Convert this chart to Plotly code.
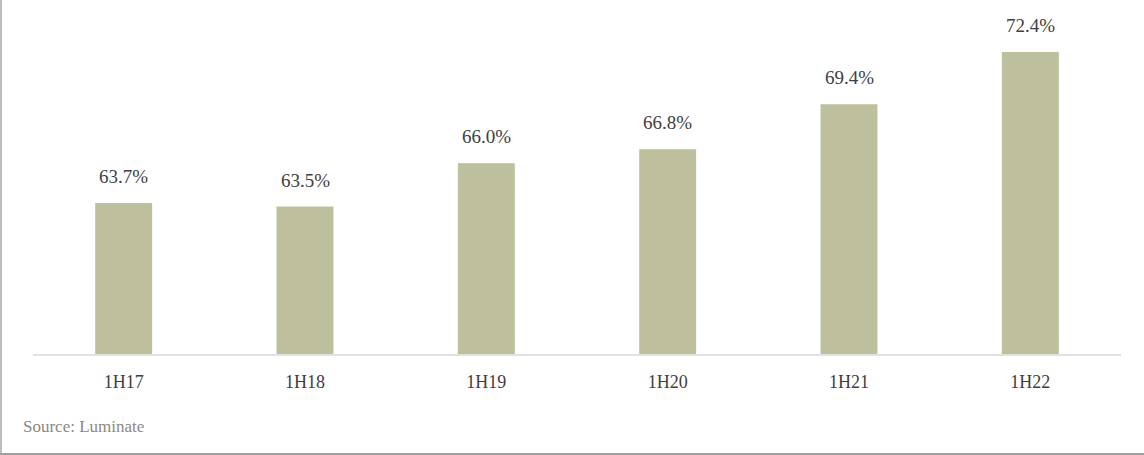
import plotly.graph_objects as go

categories = ["1H17", "1H18", "1H19", "1H20", "1H21", "1H22"]
values = [63.7, 63.5, 66.0, 66.8, 69.4, 72.4]
labels = ["63.7%", "63.5%", "66.0%", "66.8%", "69.4%", "72.4%"]
source_text = "Source: Luminate"

FONT = "Tinos, 'Times New Roman', Times, 'Noto Serif', 'DejaVu Serif'"

W, H = 1144, 455
ml, mr, mt, mb = 33, 23, 7, 101
pw = W - ml - mr
ph = H - mt - mb

fig = go.Figure()
fig.add_trace(go.Bar(
    x=categories, y=values,
    marker=dict(color="#BDBF9D", line=dict(width=0)),
    hoverinfo="skip",
))

for c, v, t in zip(categories, values, labels):
    fig.add_annotation(x=c, y=v, text=t, showarrow=False, yanchor="bottom",
                       yshift=14, font=dict(size=19, color="#404040", family=FONT))

fig.add_annotation(xref="paper", yref="paper",
                   x=(21 - ml) / pw, y=(mt + ph - 427) / ph,
                   xanchor="left", yanchor="middle", showarrow=False,
                   text=source_text,
                   font=dict(size=17, color="#8C8880", family=FONT))

# frame lines (left and bottom)
fig.add_shape(type="line", xref="paper", yref="paper",
              x0=(1 - ml) / pw, x1=(1 - ml) / pw,
              y0=(mt + ph - 0) / ph, y1=(mt + ph - 455) / ph,
              line=dict(color="#BEBEBE", width=2))
fig.add_shape(type="line", xref="paper", yref="paper",
              x0=(0 - ml) / pw, x1=(W - ml) / pw,
              y0=(mt + ph - 454) / ph, y1=(mt + ph - 454) / ph,
              line=dict(color="#A0A0A0", width=2))

fig.update_layout(
    width=W, height=H,
    margin=dict(l=ml, r=mr, t=mt, b=mb, pad=0),
    paper_bgcolor="white", plot_bgcolor="white",
    bargap=0.686,
    showlegend=False,
    font=dict(family=FONT, color="#404040"),
    xaxis=dict(showgrid=False, showline=True, linecolor="#E2E2E2", linewidth=2,
               ticks="", tickfont=dict(size=18, color="#404040", family=FONT),
               ticklabelstandoff=10, zeroline=False),
    yaxis=dict(range=[55, 75], visible=False, showgrid=False, zeroline=False),
)

fig.write_html("out.html")
